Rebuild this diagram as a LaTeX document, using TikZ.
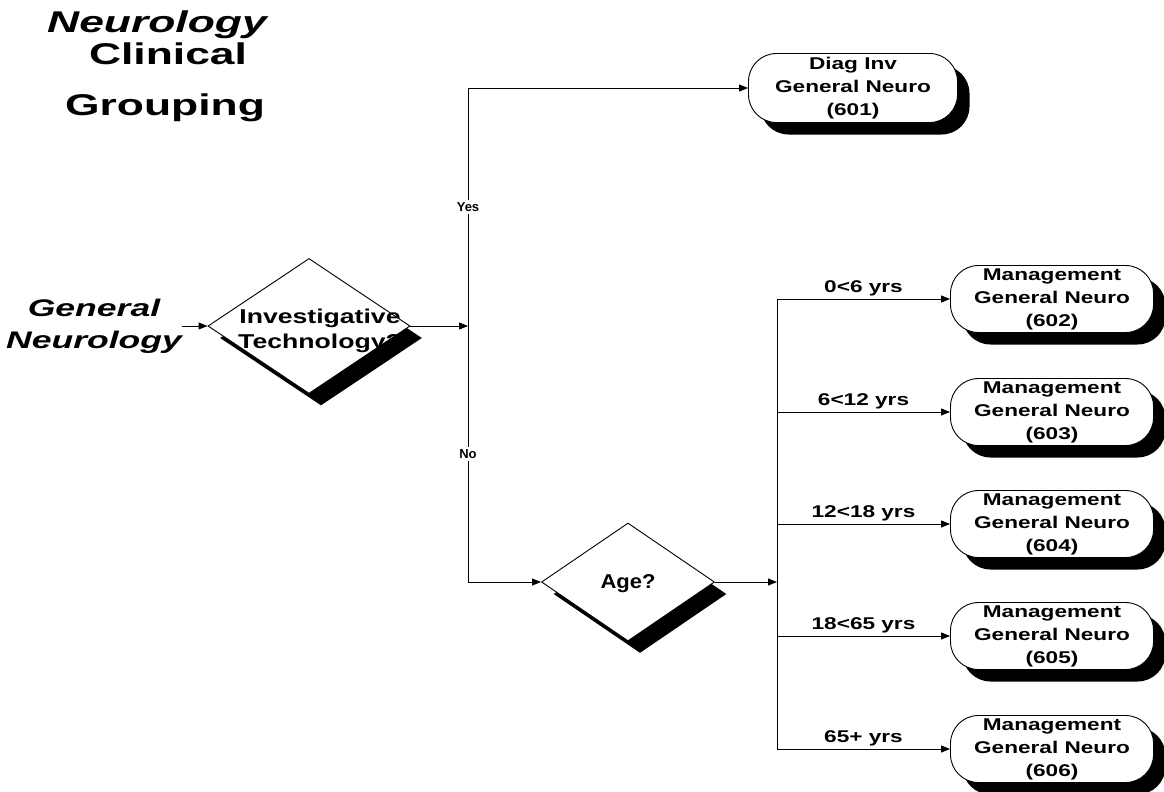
\documentclass[tikz,border=0pt]{standalone}
\usepackage{fontspec}
\setmainfont{Liberation Sans}
\newfontfamily\titlefont[FakeStretch=1.48]{Liberation Sans}
\newfontfamily\boxfont[FakeStretch=1.33]{Liberation Sans}
\newfontfamily\agefont[FakeStretch=1.1]{Liberation Sans}
\usetikzlibrary{positioning, shapes.geometric, shadows, arrows.meta}

\begin{document}
\begin{tikzpicture}[
    x=1pt, y=-1pt,
    every node/.style={align=center, inner sep=0pt},
    >={Triangle[length=9pt,width=7pt]},
    line width=0.9pt,
    decision/.style={diamond, draw, fill=white, inner sep=0pt,
        drop shadow={shadow xshift=12pt, shadow yshift=-12pt, fill=black, opacity=1}},
    outcome/.style={rectangle, draw, fill=white, rounded corners=28pt,
        minimum width=203pt, minimum height=67pt,
        drop shadow={shadow xshift=12pt, shadow yshift=-12pt, fill=black, opacity=1},
        font=\boxfont\bfseries\fontsize{17}{23}\selectfont},
    branch/.style={above=3pt, font=\boxfont\bfseries\fontsize{17}{20}\selectfont},
    yesno/.style={fill=white, inner sep=2pt, font=\bfseries\fontsize{13}{15}\selectfont}
]
    \useasboundingbox (0,0) rectangle (1164,792);

    \def\trunkX{468}
    \def\forkX{777}

    % title
    \node[anchor=base, font=\titlefont\bfseries\itshape\fontsize{30}{30}\selectfont] (ttl1) at (157,33) {Neurology};
    \node[anchor=base, font=\titlefont\bfseries\fontsize{30}{30}\selectfont] (ttl2) at (168,65) {Clinical};
    \node[anchor=base, font=\titlefont\bfseries\fontsize{30}{30}\selectfont] (ttl3) at (165,115) {Grouping};

    \node[font=\titlefont\bfseries\itshape\fontsize{24}{32}\selectfont] (gen) at (94,326) {General\\Neurology};

    % decisions
    \node[decision, minimum width=202pt, minimum height=135pt] (inv) at (309,326) {};
    \node[font=\boxfont\bfseries\fontsize{20}{25}\selectfont] (invtxt) at (320,331) {Investigative\\Technology?};

    \node[decision, minimum width=173pt, minimum height=118pt] (age) at (628,582) {};
    \node[font=\agefont\bfseries\fontsize{20}{24}\selectfont] (agetxt) at (628,584) {Age?};

    % outcomes
    \node[outcome, minimum width=209pt, minimum height=69pt] (diag) at (853,88) {Diag Inv\\General Neuro\\(601)};
    \foreach \n/\yy in {602/299, 603/412, 604/524, 605/636, 606/749}{
        \node[outcome] (m\n) at (1052,\yy) {Management\\General Neuro\\(\n)};
    }

    \coordinate (j1) at (\trunkX,326);
    \coordinate (j2) at (\forkX,582);

    \draw[->] (gen.east) -- (inv.west);
    \draw[->] (inv.east) -- (j1);
    \draw[->] (j1) |- node[yesno, pos=0.25] (yes) {Yes} (diag.west);
    \draw[->] (j1) |- node[yesno, pos=0.25] (no) {No} (age.west);
    \draw[->] (age.east) -- (j2);

    \foreach \n/\txt in {602/0<6 yrs, 603/6<12 yrs, 604/12<18 yrs, 605/18<65 yrs, 606/65+ yrs}{
        \draw[->] (j2) |- node[branch, pos=0.75] (lbl\n) {\txt} (m\n.west);
    }
\end{tikzpicture}
\end{document}
